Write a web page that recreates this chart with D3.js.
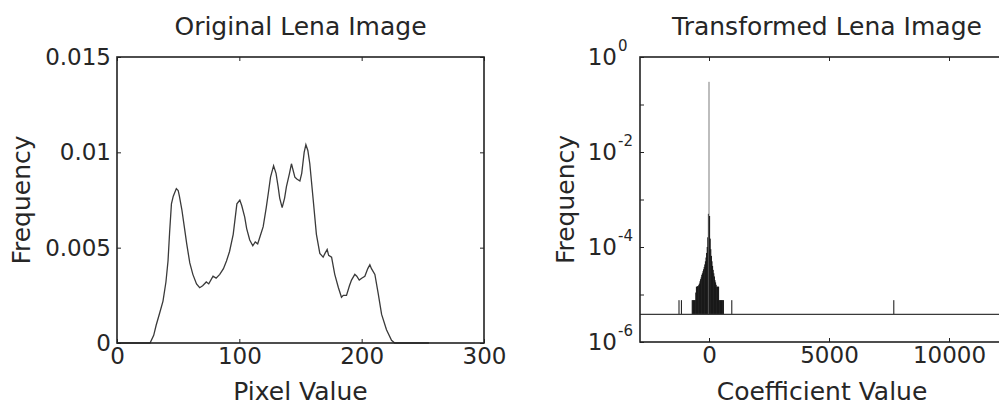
<!DOCTYPE html>
<html>
<head>
<meta charset="utf-8">
<script src="https://cdn.jsdelivr.net/npm/d3@7"></script>
<style>
  body { margin: 0; background: #fff; }
  text { font-family: "DejaVu Sans", sans-serif; fill: #262626; }
</style>
</head>
<body>
<div id="chart"></div>
<script>
// histogram of the original image (pixel value -> frequency)
var pixelValues = [0, 27, 30, 32, 35, 37.6, 40, 41.7, 43, 44.5, 46, 48.5, 50, 51, 53, 55, 57, 59.5, 62, 65,
  67.6, 70, 73, 75, 78.5, 81, 84, 87, 89.5, 92, 95, 98, 100.4, 102, 104.4, 106, 108.5, 111, 113, 115,
  117, 119.5, 122, 124, 125.5, 128, 130, 131.7, 133, 135, 137, 138.5, 141, 142.6, 145.4, 147, 149.5, 151,
  153, 154.4, 156, 157.6, 160.4, 163, 165.8, 168.5, 170, 171.8, 173, 175.4, 178, 181, 183.5, 185, 187.6,
  190, 191.7, 194.4, 196, 198, 200, 202.6, 205, 206.7, 208, 210.8, 213.5, 216.3, 220.3, 224.4, 227, 255];
var pixelFreq = [0, 0, 0.0004, 0.00093, 0.0016, 0.0022, 0.0032, 0.0043, 0.0058, 0.0073, 0.0077, 0.0081, 0.0080, 0.0077, 0.0070, 0.0061, 0.0052, 0.0042, 0.0036, 0.0031,
  0.0029, 0.0030, 0.0032, 0.0031, 0.0035, 0.0034, 0.0036, 0.0039, 0.0043, 0.0048, 0.0057, 0.0073, 0.0075, 0.0072, 0.0066, 0.0060, 0.0054, 0.0051, 0.0053, 0.0052,
  0.0056, 0.0061, 0.0071, 0.0080, 0.0087, 0.0093, 0.0089, 0.0082, 0.0076, 0.0071, 0.0076, 0.0082, 0.0089, 0.0094, 0.0087, 0.0086, 0.0085, 0.0089,
  0.0100, 0.0104, 0.0101, 0.0094, 0.0075, 0.0057, 0.0047, 0.0045, 0.0047, 0.0049, 0.0046, 0.0045, 0.0036, 0.0029, 0.0024, 0.0025, 0.0025,
  0.0030, 0.0033, 0.0036, 0.0035, 0.0033, 0.0034, 0.0035, 0.0039, 0.0041, 0.0039, 0.0036, 0.0026, 0.0015, 0.0007, 0.00014, 0, 0];

// histogram of the transformed image (coefficient bin -> frequency)
var coefBins = [-1250, -1150, -700, -675, -650, -625, -600, -575, -550, -525, -500, -475, -450, -425, -400,
  -375, -350, -325, -300, -275, -250, -225, -200, -175, -150, -125, -100, -75, -50, -25, 0,
  25, 50, 75, 100, 125, 150, 175, 200, 225, 250, 275, 300, 325, 350, 375, 400, 425, 450, 475,
  500, 525, 550, 575, 600, 950, 7700];
var coefFreq = [7.6e-6, 7.6e-6, 7.6e-6, 7.6e-6, 7.6e-6, 7.6e-6, 7.6e-6, 7.6e-6, 1.1e-5, 1.46e-5, 1.46e-5, 1.5e-5, 1.5e-5, 1.6e-5, 1.7e-5,
  1.9e-5, 2.1e-5, 2.3e-5, 2.6e-5, 2.8e-5, 3.1e-5, 3.4e-5, 3.8e-5, 4.3e-5, 5.0e-5, 6.0e-5, 7.5e-5, 1.0e-4, 1.6e-4, 5e-4, 0.3,
  4.5e-4, 1.5e-4, 9e-5, 6.5e-5, 5.0e-5, 4.0e-5, 3.3e-5, 2.8e-5, 2.4e-5, 2.0e-5, 1.8e-5, 1.6e-5, 1.46e-5, 1.46e-5, 1.46e-5, 1.46e-5, 7.6e-6, 7.6e-6, 7.6e-6,
  7.6e-6, 7.6e-6, 7.6e-6, 7.6e-6, 7.6e-6, 7.6e-6, 7.6e-6];
var baseFreq = 1 / 262144;   // one count

var pixelTicks = [0, 100, 200, 300];
var freqTicks = [0, 0.005, 0.01, 0.015];
var coefTicks = [0, 5000, 10000];
var logExponents = [0, -2, -4, -6];
var logMinor = [-1, -3, -5];

var svg = d3.select('#chart').append('svg')
  .attr('width', 999)
  .attr('height', 408)
  .style('background-color', '#fff');

var xL = d3.scaleLinear().domain([0, 300]).range([117, 484]);
var yL = d3.scaleLinear().domain([0, 0.015]).range([343, 57]);
var xR = d3.scaleLinear().domain([-2875, 12708]).range([640, 1014]);
var yR = d3.scaleLog().domain([1e-6, 1]).range([342, 57]);

function styleAxis(g, size) {
  g.select('.domain').remove();
  g.selectAll('line').attr('stroke', '#222');
  g.selectAll('text').attr('font-size', size).attr('fill', '#262626')
    .style('font-family', '"DejaVu Sans", sans-serif');
}

// ---- left panel ----
var left = svg.append('g');

left.append('path')
  .datum(d3.range(pixelValues.length))
  .attr('fill', 'none')
  .attr('stroke', '#3a3a3a')
  .attr('stroke-width', 1.3)
  .attr('d', d3.line().x(function(i) { return xL(pixelValues[i]); }).y(function(i) { return yL(pixelFreq[i]); }));

left.append('g').attr('transform', 'translate(0,343)')
  .call(d3.axisBottom(xL).tickValues(pixelTicks).tickFormat(d3.format('d')).tickSize(-4).tickSizeOuter(0).tickPadding(5))
  .call(styleAxis, 23);
left.append('g').attr('transform', 'translate(0,57)')
  .call(d3.axisTop(xL).tickValues(pixelTicks).tickFormat('').tickSize(-4).tickSizeOuter(0))
  .call(styleAxis, 23);
left.append('g').attr('transform', 'translate(117,0)')
  .call(d3.axisLeft(yL).tickValues(freqTicks).tickFormat(function(d) { return d === 0 ? '0' : String(d); }).tickSize(-4).tickSizeOuter(0).tickPadding(6))
  .call(styleAxis, 23);
left.append('g').attr('transform', 'translate(484,0)')
  .call(d3.axisRight(yL).tickValues(freqTicks).tickFormat('').tickSize(-4).tickSizeOuter(0))
  .call(styleAxis, 23);

left.append('rect')
  .attr('x', xL(0)).attr('y', yL(0.015))
  .attr('width', xL(300) - xL(0)).attr('height', yL(0) - yL(0.015))
  .attr('fill', 'none').attr('stroke', '#222').attr('stroke-width', 1.6);

left.append('text')
  .attr('x', (xL(0) + xL(300)) / 2).attr('y', 35)
  .attr('text-anchor', 'middle').attr('font-size', 25)
  .text('Original Lena Image');
left.append('text')
  .attr('x', (xL(0) + xL(300)) / 2).attr('y', 400)
  .attr('text-anchor', 'middle').attr('font-size', 25)
  .text('Pixel Value');
left.append('text')
  .attr('transform', 'translate(30,' + (yL(0) + yL(0.015)) / 2 + ') rotate(-90)')
  .attr('text-anchor', 'middle').attr('font-size', 25)
  .text('Frequency');

// ---- right panel ----
var right = svg.append('g');

var binW = Math.max(1, xR(12.5) - xR(-12.5));
right.selectAll('rect.bar')
  .data(d3.range(coefBins.length))
  .enter().append('rect')
  .attr('class', 'bar')
  .attr('x', function(i) { return xR(coefBins[i]) - binW / 2; })
  .attr('width', binW)
  .attr('y', function(i) { return yR(coefFreq[i]); })
  .attr('height', function(i) { return yR(baseFreq) - yR(coefFreq[i]); })
  .attr('fill', function(i) { return coefFreq[i] > 1e-3 ? '#7d7d7d' : '#111'; });

right.append('line')
  .attr('x1', xR.range()[0]).attr('x2', xR.range()[1])
  .attr('y1', yR(baseFreq)).attr('y2', yR(baseFreq))
  .attr('stroke', '#3a3a3a').attr('stroke-width', 1.3);

right.append('g').attr('transform', 'translate(0,342)')
  .call(d3.axisBottom(xR).tickValues(coefTicks).tickFormat(d3.format('d')).tickSize(-4).tickSizeOuter(0).tickPadding(5))
  .call(styleAxis, 23);
right.append('g').attr('transform', 'translate(0,57)')
  .call(d3.axisTop(xR).tickValues(coefTicks).tickFormat('').tickSize(-4).tickSizeOuter(0))
  .call(styleAxis, 23);

var yTickVals = logExponents.concat(logMinor).map(function(e) { return Math.pow(10, e); });
right.append('g').attr('transform', 'translate(640,0)')
  .call(d3.axisLeft(yR).tickValues(yTickVals).tickFormat('').tickSize(-4).tickSizeOuter(0))
  .call(styleAxis, 23);

right.append('rect')
  .attr('x', xR.range()[0]).attr('y', 57)
  .attr('width', xR.range()[1] - xR.range()[0]).attr('height', 342 - 57)
  .attr('fill', 'none').attr('stroke', '#222').attr('stroke-width', 1.6);

right.selectAll('text.loglab')
  .data(logExponents)
  .enter().append('text')
  .attr('class', 'loglab')
  .attr('x', 617)
  .attr('y', function(e) { return yR(Math.pow(10, e)) + 8; })
  .attr('text-anchor', 'end')
  .attr('font-size', 23)
  .text('10');
right.selectAll('text.logexp')
  .data(logExponents)
  .enter().append('text')
  .attr('class', 'logexp')
  .attr('x', 618)
  .attr('y', function(e) { return yR(Math.pow(10, e)) - 6; })
  .attr('font-size', 15)
  .text(function(e) { return e === 0 ? '0' : '-' + Math.abs(e); });

right.append('text')
  .attr('x', (xR.range()[0] + xR.range()[1]) / 2).attr('y', 35)
  .attr('text-anchor', 'middle').attr('font-size', 25)
  .text('Transformed Lena Image');
right.append('text')
  .attr('x', (xR.range()[0] + xR.range()[1]) / 2 - 5).attr('y', 400)
  .attr('text-anchor', 'middle').attr('font-size', 25)
  .text('Coefficient Value');
right.append('text')
  .attr('transform', 'translate(574,' + (57 + 342) / 2 + ') rotate(-90)')
  .attr('text-anchor', 'middle').attr('font-size', 25)
  .text('Frequency');
</script>
</body>
</html>
